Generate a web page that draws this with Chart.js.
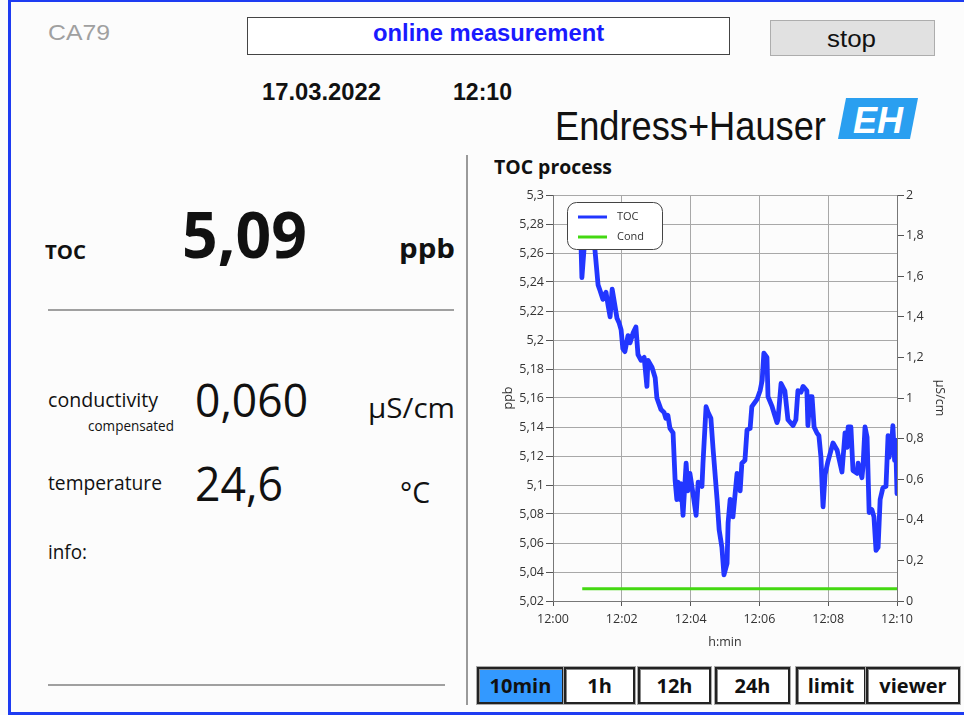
<!DOCTYPE html>
<html><head><meta charset="utf-8">
<script src="https://cdn.jsdelivr.net/npm/chart.js@4.4.1/dist/chart.umd.min.js"></script>
<style>
html,body{margin:0;padding:0;background:#fcfcfc;}
#page{position:relative;width:964px;height:715px;overflow:hidden;background:#fcfcfc;}
.t{position:absolute;white-space:nowrap;line-height:1;color:#111;transform-origin:left top;}
.os{font-family:"Open Sans","Noto Sans",sans-serif;}
.ar{font-family:"Liberation Sans",Arial,sans-serif;}
.b{font-weight:bold;}
.box{position:absolute;box-sizing:border-box;}
.btn{position:absolute;box-sizing:border-box;top:667px;height:37px;border:2px solid #222;box-shadow:inset 1px 1px 0 #888, 0 0 0 1px #aaa;background:#fff;display:flex;align-items:center;justify-content:center;font-family:"Open Sans","Noto Sans",sans-serif;font-weight:bold;font-size:20px;color:#111;}
</style></head>
<body><div id="page">
<div class="box" style="left:8px;top:-1px;width:1000px;height:716px;border:3px solid #1e3cf2;"></div>

<div class="t ar" style="left:48px;top:22px;font-size:22px;color:#a0a0a0;" data-w="62">CA79</div>
<div class="box" style="left:247px;top:17px;width:483px;height:38px;border:1px solid #444;background:#fff;"></div>
<div class="t ar b" style="left:373px;top:22px;font-size:23px;color:#1a1aff;" data-w="231">online measurement</div>
<div class="box" style="left:770px;top:20px;width:165px;height:36px;border:1px solid #adadad;background:#e1e1e1;"></div>
<div class="t ar" style="left:827px;top:28px;font-size:23px;color:#111;" data-w="49">stop</div>
<div class="t ar b" style="left:262px;top:81px;font-size:23px;" data-w="119">17.03.2022</div>
<div class="t ar b" style="left:453px;top:81px;font-size:23px;" data-w="59">12:10</div>
<div class="t" style="left:555px;top:106px;font-size:40px;font-family:'Liberation Sans Narrow','Liberation Sans',sans-serif;" data-w="271">Endress+Hauser</div>
<svg class="box" style="left:836px;top:96px;" width="84" height="46" viewBox="0 0 84 46">
  <polygon points="10,2 82,2 74,43 2,43" fill="#2a9ff0"/>
  <text x="42" y="37" text-anchor="middle" font-family="Liberation Sans" font-weight="bold" font-style="italic" font-size="36" fill="#fff">EH</text>
</svg>

<div class="box" style="left:466px;top:155px;width:2px;height:550px;background:#9a9a9a;"></div>

<div class="t os b" style="left:45px;top:242px;font-size:20px;" data-w="41">TOC</div>
<div class="t os b" style="left:182px;top:201px;font-size:65px;" data-w="125">5,09</div>
<div class="t os b" style="left:399px;top:234px;font-size:27px;" data-w="56">ppb</div>
<div class="box" style="left:48px;top:309px;width:406px;height:2px;background:#a0a0a0;"></div>
<div class="t os" style="left:48px;top:390px;font-size:20px;" data-w="110">conductivity</div>
<div class="t os" style="left:88px;top:419px;font-size:14px;" data-w="86">compensated</div>
<div class="t os" style="left:195px;top:376px;font-size:46px;" data-w="113">0,060</div>
<div class="t os" style="left:368px;top:393px;font-size:28px;" data-w="87">µS/cm</div>
<div class="t os" style="left:48px;top:473px;font-size:20px;" data-w="114">temperature</div>
<div class="t os" style="left:195px;top:460px;font-size:47px;" data-w="88">24,6</div>
<div class="t os" style="left:400px;top:477px;font-size:29px;" data-w="30">°C</div>
<div class="t os" style="left:48px;top:542px;font-size:20px;" data-w="39">info:</div>
<div class="box" style="left:48px;top:684px;width:397px;height:2px;background:#a0a0a0;"></div>

<div class="t os b" style="left:494px;top:158px;font-size:19px;" data-w="118">TOC process</div>
<canvas id="c" width="484" height="470" style="position:absolute;left:480px;top:185px;"></canvas>

<div class="btn" style="left:477px;width:87px;background:#3399ff;">10min</div>
<div class="btn" style="left:564px;width:71px;">1h</div>
<div class="btn" style="left:638px;width:73px;">12h</div>
<div class="btn" style="left:715px;width:75px;">24h</div>
<div class="btn" style="left:796px;width:70px;">limit</div>
<div class="btn" style="left:866px;width:94px;">viewer</div>
</div>
<script>
// ---- data ----
const xTickLabels = ['12:00','12:02','12:04','12:06','12:08','12:10'];
const seriesNames = ['TOC','Cond'];
const tocMinutes = [
 0.81,0.84,0.90,0.99,1.10,1.22,1.31,1.37,1.45,1.54,
 1.60,1.66,1.72,1.77,1.86,1.92,1.98,2.03,2.09,2.18,
 2.24,2.33,2.41,2.47,2.56,2.65,2.73,2.76,2.88,2.97,
 3.02,3.14,3.23,3.28,3.34,3.40,3.49,3.55,3.60,3.63,
 3.69,3.72,3.78,3.87,3.92,3.98,4.07,4.16,4.22,4.33,
 4.36,4.45,4.51,4.59,4.65,4.77,4.83,4.91,4.97,5.06,
 5.09,5.15,5.23,5.35,5.44,5.49,5.58,5.64,5.73,5.78,
 5.93,6.02,6.08,6.13,6.22,6.25,6.37,6.51,6.54,6.63,
 6.74,6.83,6.98,7.06,7.12,7.21,7.27,7.38,7.41,7.47,
 7.53,7.59,7.67,7.73,7.79,7.82,7.85,7.91,7.99,8.14,
 8.26,8.40,8.49,8.55,8.58,8.66,8.72,8.84,8.87,8.98,
 9.01,9.07,9.13,9.19,9.27,9.33,9.39,9.45,9.51,9.59,
 9.68,9.74,9.77,9.85,9.88,9.93,9.96,10.0];
const tocValues = [
 5.269,5.243,5.262,5.272,5.274,5.262,5.238,5.234,5.228,5.233,
 5.224,5.216,5.235,5.228,5.215,5.212,5.207,5.194,5.192,5.203,
 5.198,5.205,5.209,5.190,5.186,5.188,5.168,5.186,5.181,5.174,
 5.160,5.152,5.150,5.146,5.148,5.139,5.136,5.103,5.090,5.102,
 5.090,5.101,5.079,5.115,5.096,5.108,5.094,5.079,5.102,5.099,
 5.115,5.154,5.150,5.146,5.126,5.090,5.069,5.057,5.038,5.046,
 5.074,5.090,5.078,5.108,5.096,5.115,5.117,5.138,5.139,5.154,
 5.159,5.165,5.172,5.191,5.188,5.161,5.154,5.143,5.145,5.170,
 5.165,5.145,5.141,5.145,5.165,5.164,5.168,5.165,5.141,5.161,
 5.161,5.140,5.136,5.134,5.119,5.101,5.085,5.107,5.116,5.129,
 5.124,5.109,5.136,5.126,5.140,5.140,5.110,5.108,5.115,5.105,
 5.112,5.140,5.133,5.081,5.083,5.078,5.055,5.057,5.090,5.098,
 5.099,5.134,5.119,5.131,5.141,5.117,5.131,5.094];
const condMinutes = [0.85, 10.0];
const condValues = [0.06, 0.06];

// ---- helpers ----
function fmt(v){ return String(parseFloat(Number(v).toFixed(2))).replace('.', ','); }
const fontFam = '"Open Sans","Noto Sans",sans-serif';

const boxLegend = {
  id:'boxLegend',
  afterDatasetsDraw(chart){
    const {ctx, chartArea:a} = chart;
    const x = a.left+14, y = a.top+7, w = 95, h = 47;
    ctx.save();
    ctx.beginPath();
    ctx.roundRect(x+0.5, y+0.5, w, h, 9);
    ctx.fillStyle = '#ffffff'; ctx.fill();
    ctx.strokeStyle = '#444'; ctx.lineWidth = 1; ctx.stroke();
    chart.data.datasets.forEach((ds,i)=>{
      const ly = y + 15 + i*20;
      ctx.strokeStyle = ds.borderColor; ctx.lineWidth = 3;
      ctx.beginPath(); ctx.moveTo(x+11, ly); ctx.lineTo(x+40, ly); ctx.stroke();
      ctx.fillStyle = '#333'; ctx.font = '11px ' + fontFam; ctx.textBaseline = 'middle';
      ctx.fillText(ds.label, x+50, ly);
    });
    ctx.restore();
  }
};

const gridCol = '#a8a8a8';
const tickFont = { family: fontFam, size: 12.5 };
new Chart(document.getElementById('c'), {
  type: 'line',
  data: {
    datasets: [
      { label: seriesNames[0], data: tocMinutes.map((m,i)=>({x:m, y:tocValues[i]})),
        borderColor: '#2236ff', borderWidth: 4.8, pointRadius: 0, tension: 0,
        borderJoinStyle: 'round', borderCapStyle: 'round', yAxisID: 'y' },
      { label: seriesNames[1], data: condMinutes.map((m,i)=>({x:m, y:condValues[i]})),
        borderColor: '#44d812', borderWidth: 3, pointRadius: 0, tension: 0, yAxisID: 'y2' }
    ]
  },
  options: {
    responsive: false, animation: false,
    layout: { padding: { top: 10, left: 0, right: 0, bottom: 0 } },
    plugins: { legend: { display: false }, tooltip: { enabled: false } },
    scales: {
      x: { type: 'linear', min: 0, max: 10,
        ticks: { stepSize: 2, padding: 6, color: '#333', font: tickFont, maxRotation: 0,
                 callback: v => xTickLabels[Math.round(v/2)] },
        grid: { color: gridCol, tickLength: 5, tickColor: '#555' },
        border: { color: '#777' },
        title: { display: true, text: 'h:min', color: '#333', font: tickFont, padding: { top: 0, bottom: 5 } },
        afterFit: s => { s.height = 54; } },
      y: { position: 'left', min: 5.02, max: 5.3,
        ticks: { stepSize: 0.02, padding: 2, color: '#333', font: tickFont, callback: v => fmt(v) },
        grid: { color: gridCol, tickLength: 7, tickColor: '#555' },
        border: { color: '#777' },
        title: { display: true, text: 'ppb', color: '#333', font: tickFont, padding: { top: 21, bottom: 0 } },
        afterFit: s => { s.width = 73; } },
      y2: { position: 'right', min: 0, max: 2,
        ticks: { stepSize: 0.2, padding: 2, color: '#333', font: tickFont, callback: v => fmt(v) },
        grid: { drawOnChartArea: false, tickLength: 7, tickColor: '#555' },
        border: { color: '#777' },
        title: { display: true, text: 'µS/cm', color: '#333', font: tickFont, padding: { top: 17, bottom: 0 } },
        afterFit: s => { s.width = 67; } }
    }
  },
  plugins: [boxLegend]
});

function fitTexts(){
  document.querySelectorAll('[data-w]').forEach(el=>{
    el.style.transform = 'none';
    const w = el.getBoundingClientRect().width;
    let k = (+el.dataset.w) / w;
    k = Math.max(0.75, Math.min(1.3, k));
    el.style.transform = 'scaleX(' + k.toFixed(3) + ')';
  });
}
fitTexts();
if (document.fonts && document.fonts.ready) document.fonts.ready.then(fitTexts);
</script>
</body></html>
